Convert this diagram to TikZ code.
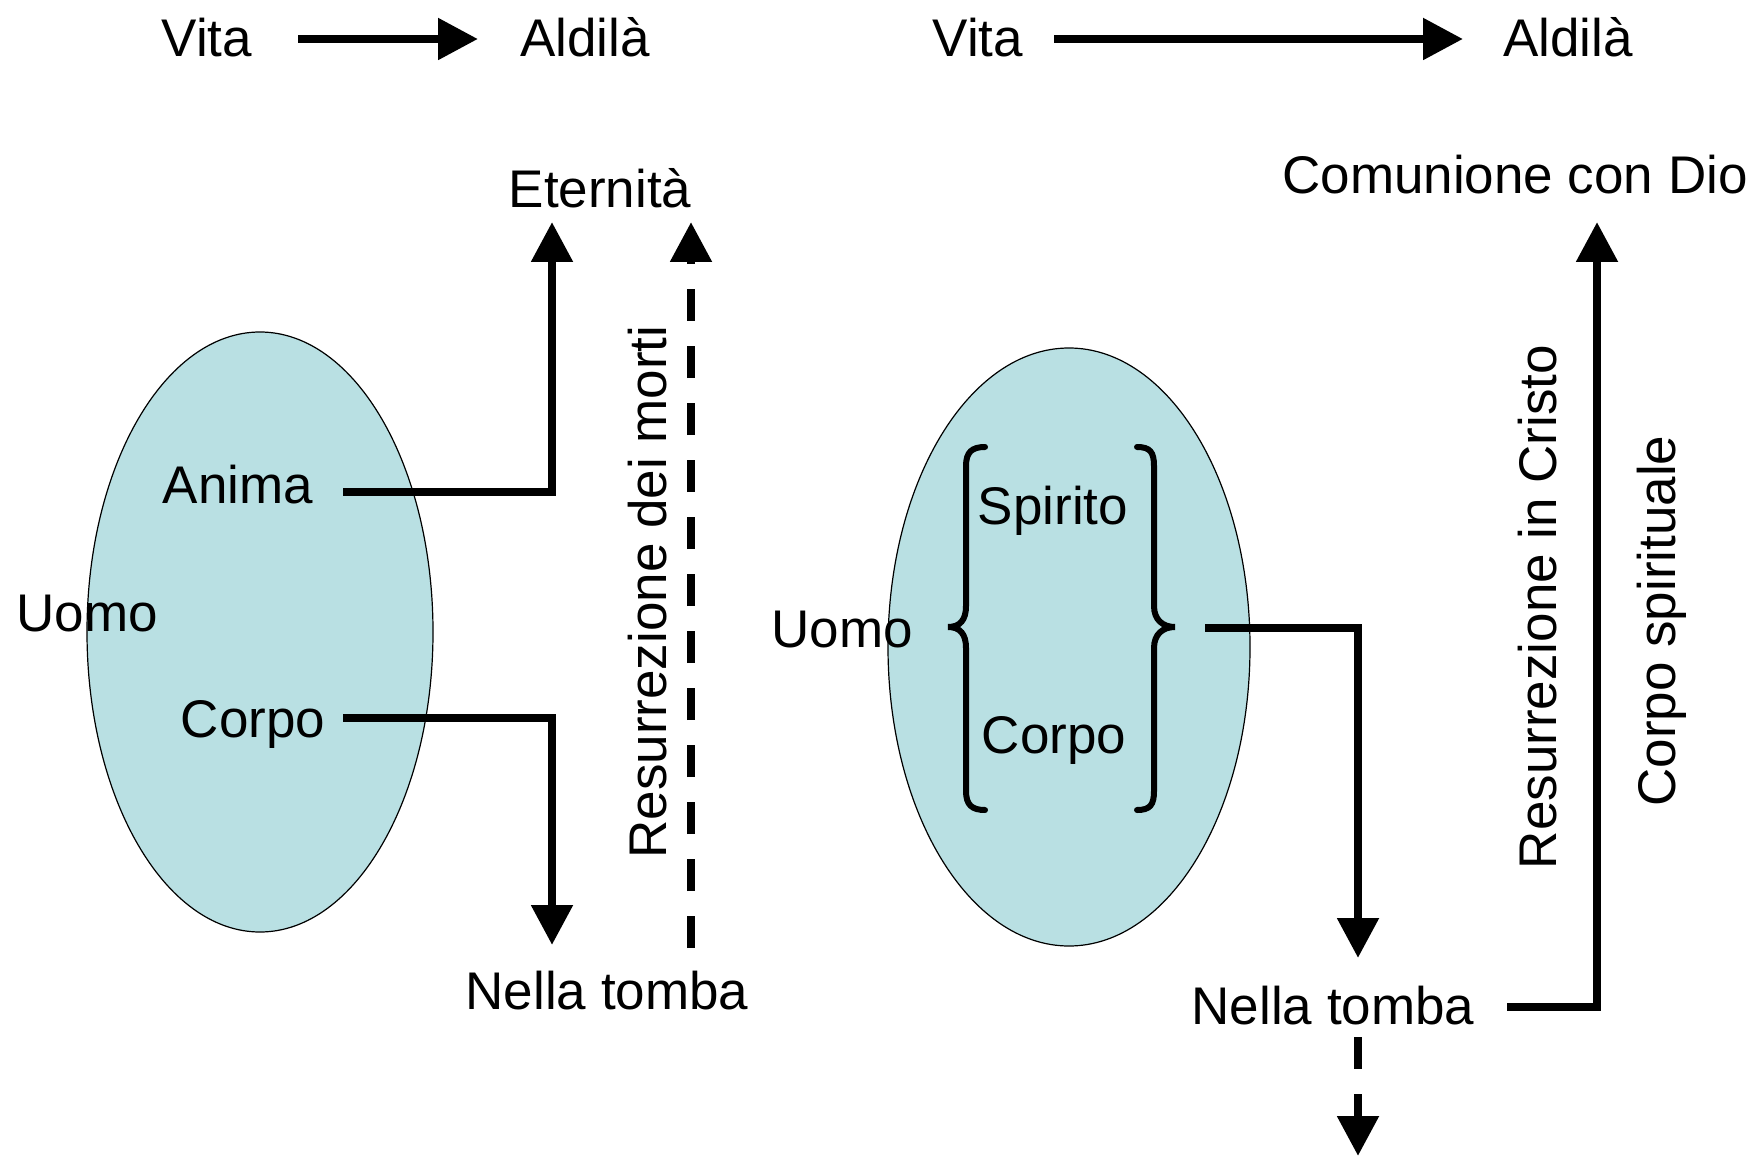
\documentclass[tikz,border=0pt]{standalone}
\usepackage{fontspec}
\setmainfont{Liberation Sans}
\usetikzlibrary{arrows.meta,shapes.geometric}
\definecolor{ovalfill}{RGB}{185,224,227}
\begin{document}
\begin{tikzpicture}[x=0.5pt,y=-0.5pt,
  lbl/.style={inner sep=0pt, anchor=base, font=\fontsize{26.5}{30}\selectfont},
  conn/.style={line width=4.2pt},
  tip/.style={-{Triangle[length=20pt,width=20pt]}},
  dsh/.style={dash pattern=on 16pt off 12.5pt},
  oval/.style={ellipse, draw=black, line width=0.6pt, fill=ovalfill, inner sep=0pt},
  bracestroke/.style={line width=3pt, line cap=round}]
\useasboundingbox (0,0) rectangle (1764,1160);

% ---------- ovals ----------
\node[oval, minimum width=173pt, minimum height=300pt] (ovalL) at (260,632) {};
\node[oval, minimum width=181pt, minimum height=299pt] (ovalR) at (1069,647) {};

% ---------- top rows ----------
\node[lbl] (vitaL) at (207,57) {Vita};
\node[lbl] (aldL) at (585,57) {Aldilà};
\node[lbl] (vitaR) at (978,57) {Vita};
\node[lbl] (aldR) at (1568,57) {Aldilà};
\coordinate (tvL1) at (298,39);
\coordinate (tvL2) at (478,39);
\coordinate (tvR1) at (1054,39);
\coordinate (tvR2) at (1463,39);
\draw[conn,tip] (tvL1) -- (tvL2);
\draw[conn,tip] (tvR1) -- (tvR2);

% ---------- left part ----------
\node[lbl] (eter) at (600,208) {Eternità};
\node[lbl] (anima) at (238,503) {Anima};
\node[lbl] (uomoL) at (87,631) {Uomo};
\node[lbl] (corpoL) at (253,737) {Corpo};
\node[lbl] (tombaL) at (607,1009) {Nella tomba};
\node[lbl, rotate=90] (resL) at (666,592) {Resurrezione dei morti};

\coordinate (anS) at (343,492);
\coordinate (anT) at (552,222);
\coordinate (coS) at (343,718);
\coordinate (coT) at (552,945);
\coordinate (dLS) at (691,948);
\coordinate (dLT) at (691,222);
\draw[conn,tip] (anS) -| (anT);
\draw[conn,tip] (coS) -| (coT);
\draw[conn,tip,dsh] (dLS) -- (dLT);

% ---------- right part ----------
\node[lbl] (comun) at (1515,194) {Comunione con Dio};
\node[lbl] (uomoR) at (842,647) {Uomo};
\node[lbl] (spir) at (1053,524) {Spirito};
\node[lbl] (corpoR) at (1054,753) {Corpo};
\node[lbl] (tombaR) at (1333,1024) {Nella tomba};
\node[lbl, rotate=90] (resR) at (1556,607) {Resurrezione in Cristo};
\node[lbl, rotate=90] (cspir) at (1675,621) {Corpo spirituale};

% braces
\draw[bracestroke] (985,447) .. controls (972,447) and (966,452) .. (966,466)
  -- (966,606) .. controls (966,620) and (960,627) .. (948,627)
  .. controls (960,627) and (966,634) .. (966,648)
  -- (966,791) .. controls (966,805) and (972,810) .. (985,810);
\draw[bracestroke] (1137,447) .. controls (1150,447) and (1154,452) .. (1154,466)
  -- (1154,606) .. controls (1154,620) and (1163,627) .. (1175,627)
  .. controls (1163,627) and (1154,634) .. (1154,648)
  -- (1154,791) .. controls (1154,805) and (1150,810) .. (1137,810);

\coordinate (brS) at (1205,628);
\coordinate (brT) at (1358,958);
\coordinate (dRS) at (1358,1037);
\coordinate (dRT) at (1358,1156);
\coordinate (ntS) at (1507,1007);
\coordinate (ntT) at (1597,222);
\draw[conn,tip] (brS) -| (brT);
\draw[conn,tip,dsh] (dRS) -- (dRT);
\draw[conn,tip] (ntS) -| (ntT);
\end{tikzpicture}
\end{document}
